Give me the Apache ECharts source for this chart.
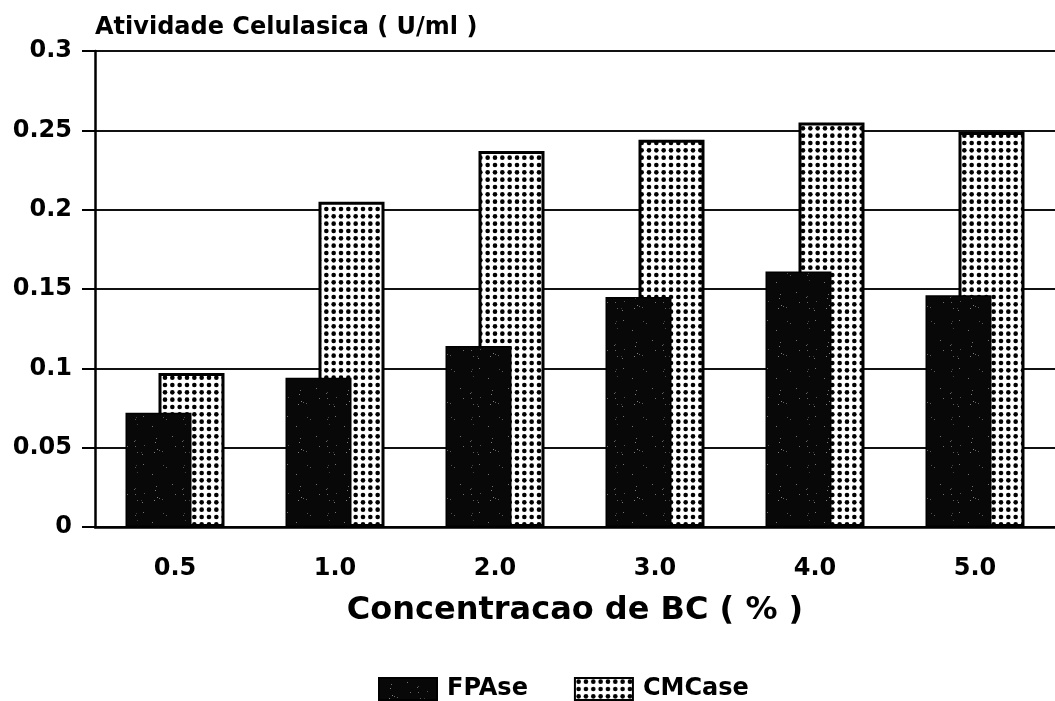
<!DOCTYPE html>
<html>
<head>
<meta charset="utf-8">
<title>Atividade Celulasica</title>
<script src="https://cdn.jsdelivr.net/npm/echarts@6/dist/echarts.min.js"></script>
<style>
  html, body { margin: 0; padding: 0; background: #fff; }
  #chart { width: 1055px; height: 701px; }
</style>
</head>
<body>
<div id="chart"></div>
<script>
// Cellulase activity (U/ml) against BC concentration (%)
const categories = ['0.5', '1.0', '2.0', '3.0', '4.0', '5.0'];
const fpase = [0.072, 0.094, 0.114, 0.145, 0.161, 0.146];
const cmcase = [0.097, 0.205, 0.237, 0.244, 0.255, 0.249];
const yTickLabels = ['0', '0.05', '0.1', '0.15', '0.2', '0.25', '0.3'];
const yStep = 0.05;

const FONT = 'DejaVu Sans';

// Black-dot halftone fill for the CMCase bars
function dotPattern() {
  const c = document.createElement('canvas');
  const n = 3, step = 22 / n;
  c.width = 22; c.height = 22;
  const g = c.getContext('2d');
  g.fillStyle = '#fff';
  g.fillRect(0, 0, 22, 22);
  g.fillStyle = '#000';
  for (let i = 0; i < n; i++) {
    for (let j = 0; j < n; j++) {
      g.beginPath();
      g.arc(step / 2 + i * step, step / 2 + j * step, 2.3, 0, Math.PI * 2);
      g.fill();
    }
  }
  return c;
}

// Near-black fill with a light speckle for the FPAse bars
function darkPattern() {
  const c = document.createElement('canvas');
  c.width = 48; c.height = 48;
  const g = c.getContext('2d');
  g.fillStyle = '#080808';
  g.fillRect(0, 0, 48, 48);
  let s = 12345;
  const next = () => { s = (s * 1103515245 + 12345) & 0x7fffffff; return s / 0x7fffffff; };
  for (let k = 0; k < 22; k++) {
    const x = Math.floor(next() * 48), y = Math.floor(next() * 48);
    const v = 60 + Math.floor(next() * 80);
    g.fillStyle = `rgb(${v},${v},${v})`;
    g.fillRect(x, y, 1, 1);
  }
  return c;
}

const chart = echarts.init(document.getElementById('chart'), null, { renderer: 'canvas' });

const labelStyle = { color: '#000', fontFamily: FONT, fontWeight: 'bold', fontSize: 24 };

chart.setOption({
  animation: false,
  backgroundColor: '#fff',
  grid: { left: 95, right: -10, top: 51, bottom: 174, containLabel: false },
  graphic: [{
    type: 'text',
    left: 95,
    top: 16,
    style: {
      text: 'Atividade Celulasica ( U/ml )',
      fill: '#000',
      fontFamily: FONT,
      fontWeight: 'bold',
      fontSize: 24
    }
  }],
  legend: {
    left: 373,
    top: 672,
    icon: 'rect',
    itemWidth: 58,
    itemHeight: 22,
    itemGap: 46,
    textStyle: { color: '#000', fontFamily: FONT, fontWeight: 'bold', fontSize: 24, padding: [0, 0, 0, 5] },
    data: ['FPAse', 'CMCase']
  },
  xAxis: {
    type: 'category',
    data: categories,
    boundaryGap: true,
    name: 'Concentracao de BC ( % )',
    nameLocation: 'middle',
    nameGap: 68,
    nameTextStyle: { color: '#000', fontFamily: FONT, fontWeight: 'bold', fontSize: 32 },
    axisLine: { lineStyle: { color: '#000', width: 2.5 } },
    axisTick: { alignWithLabel: true, length: 13, lineStyle: { color: '#000', width: 2 } },
    axisLabel: Object.assign({ margin: 30 }, labelStyle),
    splitLine: { show: false }
  },
  yAxis: {
    type: 'value',
    min: 0,
    max: 0.3,
    interval: yStep,
    axisLine: { show: true, lineStyle: { color: '#000', width: 2.5 } },
    axisTick: { show: true, length: 13, lineStyle: { color: '#000', width: 2 } },
    axisLabel: Object.assign({
      margin: 23,
      verticalAlign: 'middle',
      lineHeight: 20,
      formatter: v => yTickLabels[Math.round(v / yStep)]
    }, labelStyle),
    splitLine: { show: true, lineStyle: { color: '#111', width: 2 } }
  },
  series: [
    {
      name: 'FPAse',
      type: 'bar',
      data: fpase,
      barWidth: 66,
      barGap: '-50%',
      z: 4,
      itemStyle: {
        color: { image: darkPattern(), repeat: 'repeat' },
        borderColor: '#000',
        borderWidth: 1.5
      }
    },
    {
      name: 'CMCase',
      type: 'bar',
      data: cmcase,
      barWidth: 66,
      barGap: '-50%',
      z: 3,
      itemStyle: {
        color: { image: dotPattern(), repeat: 'repeat' },
        borderColor: '#000',
        borderWidth: 3
      }
    }
  ]
});
</script>
</body>
</html>
